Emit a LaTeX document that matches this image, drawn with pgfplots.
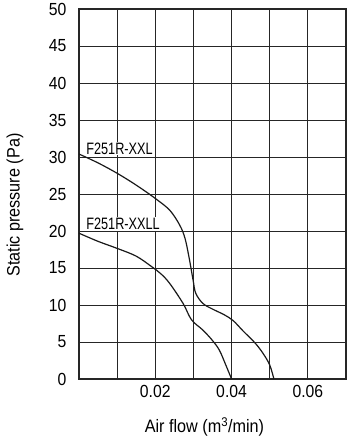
\documentclass[border=0pt]{standalone}
\usepackage{fontspec}
\setmainfont{Liberation Sans}[FakeStretch=0.9]
\newfontfamily\cond{Liberation Sans}[FakeStretch=0.77]
\usepackage{pgfplots}
\pgfplotsset{compat=1.18}
\begin{document}
\begin{tikzpicture}
\begin{axis}[
 scale only axis, width=267pt, height=370pt,
 xmin=0, xmax=0.07, ymin=0, ymax=50,
 xtick={0.02,0.04,0.06}, minor xtick={0.01,0.03,0.05},
 ytick={0,5,...,50},
 grid=both,
 major grid style={black!85, line width=0.8pt},
 minor grid style={black!85, line width=0.8pt},
 major tick length=0pt, minor tick length=0pt,
 axis line style={black!85, line width=1.2pt},
 tick label style={font=\fontsize{17.5}{17.5}\selectfont},
 yticklabel style={xshift=-9pt},
 xticklabel style={yshift=-3pt},
 /pgf/number format/assume math mode=true,
 xticklabel style={/pgf/number format/fixed, /pgf/number format/precision=2, /pgf/number format/fixed zerofill},
 scaled x ticks=false,
 xlabel={Air flow (m\textsuperscript{3}/min)},
 ylabel={Static pressure (Pa)},
 label style={font=\fontsize{18}{18}\selectfont},
 xlabel style={at={(axis description cs:0.47,-0.13)}, anchor=center},
 ylabel style={at={(axis description cs:-0.24,0.47)}, anchor=center},
]
\addplot[black!90, line width=1.2pt, smooth, tension=0.55] coordinates {
(0,30.4) (0.005,29.2) (0.01,27.8) (0.015,26.2) (0.02,24.4) (0.0238,22.8) (0.0264,20.8) (0.0278,19.0) (0.0289,16.3) (0.0299,13.4) (0.0306,11.6) (0.0325,10.2) (0.0352,9.4) (0.0380,8.7) (0.0404,7.9) (0.0430,6.5) (0.0461,4.9) (0.0482,3.5) (0.0500,1.9) (0.0511,0)
};
\addplot[black!90, line width=1.2pt, smooth, tension=0.55] coordinates {
(0,19.7) (0.005,18.6) (0.01,17.65) (0.015,16.6) (0.019,15.2) (0.0215,14.2) (0.0238,12.9) (0.0273,10.2) (0.0295,8.0) (0.0325,6.6) (0.0350,5.2) (0.0368,3.9) (0.0384,2.0) (0.0400,0)
};
\node[anchor=base west, fill=white, inner sep=1pt, font=\cond\fontsize{16.5}{16.5}\selectfont] at (axis cs:0.0016,30.4) {F251R-XXL};
\node[anchor=base west, fill=white, inner sep=1pt, font=\cond\fontsize{16.5}{16.5}\selectfont] at (axis cs:0.0016,20.2) {F251R-XXLL};
\end{axis}
\pgfresetboundingbox
\path (current axis.south west) ++(-79pt,-59pt) rectangle ++(356pt,438pt);
\end{tikzpicture}
\end{document}
